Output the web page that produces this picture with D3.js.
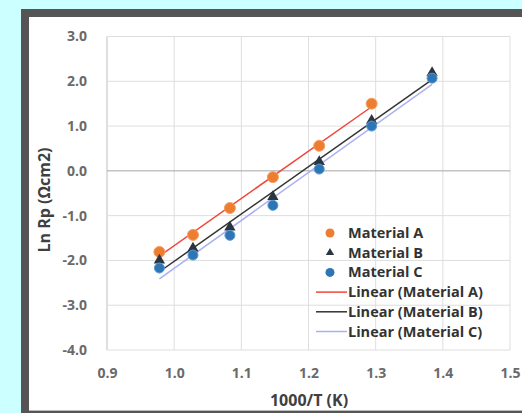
<!DOCTYPE html>
<html>
<head>
<meta charset="utf-8">
<script src="https://cdn.jsdelivr.net/npm/d3@7"></script>
<style>
  body { margin: 0; background: #ccffff; }
  svg { display: block; }
</style>
</head>
<body>
<svg width="522" height="413"></svg>
<script>
// data
var xA = [0.978, 1.028, 1.083, 1.147, 1.216, 1.294];
var yA = [-1.81, -1.43, -0.83, -0.14, 0.56, 1.50];
var xB = [0.978, 1.028, 1.083, 1.147, 1.216, 1.294, 1.384];
var yB = [-2.02, -1.75, -1.28, -0.60, 0.18, 1.10, 2.17];
var xC = [0.978, 1.028, 1.083, 1.147, 1.216, 1.294, 1.384];
var yC = [-2.17, -1.88, -1.44, -0.77, 0.04, 1.00, 2.07];
var xTicks = [0.9, 1.0, 1.1, 1.2, 1.3, 1.4, 1.5];
var yTicks = [3, 2, 1, 0, -1, -2, -3, -4];
var names = ["Material A", "Material B", "Material C"];

var svg = d3.select("svg");

// frame
svg.append("rect").attr("x", 21).attr("y", 9).attr("width", 520).attr("height", 410).attr("fill", "#555");
svg.append("rect").attr("x", 29).attr("y", 17).attr("width", 510).attr("height", 393).attr("fill", "#fff");
svg.append("line").attr("x1", 29).attr("x2", 522).attr("y1", 410.5).attr("y2", 410.5).attr("stroke", "#bbb");

var margin = {top: 36.5, left: 107, right: 12, bottom: 63},
    width = 522 - margin.left - margin.right,
    height = 413 - margin.top - margin.bottom,
    g = svg.append("g").attr("transform", "translate(" + margin.left + "," + margin.top + ")");

var x = d3.scaleLinear().domain([0.9, 1.5]).range([0, width]);
var y = d3.scaleLinear().domain([-4, 3]).range([height, 0]);

// grid
g.selectAll(".vg").data(xTicks).enter().append("line")
  .attr("x1", function(d) { return x(d); }).attr("x2", function(d) { return x(d); })
  .attr("y1", 0).attr("y2", height)
  .attr("stroke", function(d, i) { return i == 0 ? "#bfbfbf" : "#dedede"; });
g.selectAll(".hg").data(yTicks).enter().append("line")
  .attr("x1", 0).attr("x2", width)
  .attr("y1", function(d) { return y(d); }).attr("y2", function(d) { return y(d); })
  .attr("stroke", function(d) { return d == 0 ? "#a6a6a6" : "#dedede"; });

var fmt = function(d) { return d3.format(".1f")(d).replace("−", "-"); };
var tickFont = "bold 14px 'Open Sans', sans-serif";

var yAxis = g.append("g").call(d3.axisLeft(y).tickValues(yTicks).tickFormat(fmt).tickSize(0).tickPadding(20));
yAxis.select(".domain").remove();
yAxis.selectAll("text").style("font", tickFont).attr("fill", "#6a6a6a");

var xAxis = g.append("g").attr("transform", "translate(0," + height + ")")
  .call(d3.axisBottom(x).tickValues(xTicks).tickFormat(fmt).tickSize(0).tickPadding(18));
xAxis.select(".domain").remove();
xAxis.selectAll("text").style("font", tickFont).attr("fill", "#6a6a6a");

// axis titles
var titleFont = "bold 16px 'Open Sans', sans-serif";
svg.append("text").attr("transform", "translate(50,200) rotate(-90)")
  .attr("text-anchor", "middle").style("font", titleFont).attr("fill", "#404040")
  .text("Ln Rp (Ωcm2)");
svg.append("text").attr("x", 309).attr("y", 406)
  .attr("text-anchor", "middle").style("font", titleFont).attr("fill", "#404040")
  .text("1000/T (K)");

// trend lines (least squares)
function fit(xs, ys) {
  var mx = d3.mean(xs), my = d3.mean(ys);
  var sxy = d3.sum(xs, function(v, i) { return (v - mx) * (ys[i] - my); });
  var sxx = d3.sum(xs, function(v) { return (v - mx) * (v - mx); });
  var b = sxy / sxx, a = my - b * mx;
  var x0 = d3.min(xs), x1 = d3.max(xs);
  return [[x0, a + b * x0], [x1, a + b * x1]];
}
var line = d3.line().x(function(d) { return x(d[0]); }).y(function(d) { return y(d[1]); });

var trends = [
  {pts: fit(xA, yA), color: "#f0463a"},
  {pts: fit(xB, yB), color: "#333"},
  {pts: fit(xC, yC), color: "#aab0f0"}
];
g.selectAll(".trend").data(trends).enter().append("path")
  .attr("d", function(d) { return line(d.pts); })
  .attr("fill", "none").attr("stroke", function(d) { return d.color; }).attr("stroke-width", 1.5);

// markers
g.selectAll(".a").data(xA).enter().append("circle")
  .attr("cx", function(d) { return x(d); }).attr("cy", function(d, i) { return y(yA[i]); })
  .attr("r", 5.5).attr("fill", "#ed7d31").attr("stroke", "#f4a060").attr("stroke-width", 1);

var tri = d3.symbol().type(d3.symbolTriangle).size(55);
g.selectAll(".b").data(xB).enter().append("path")
  .attr("transform", function(d, i) { return "translate(" + x(d) + "," + (y(yB[i]) - 1) + ")"; })
  .attr("d", tri).attr("fill", "#2a3540");

g.selectAll(".c").data(xC).enter().append("circle")
  .attr("cx", function(d) { return x(d); }).attr("cy", function(d, i) { return y(yC[i]); })
  .attr("r", 5).attr("fill", "#2e75b6").attr("stroke", "#5a9ad0").attr("stroke-width", 1);

// legend
var lg = svg.append("g").attr("transform", "translate(316,233)");
var rowH = 19.7;
var legFont = "bold 14.5px 'Open Sans', sans-serif";
lg.append("circle").attr("cx", 14).attr("cy", 0).attr("r", 4.5).attr("fill", "#ed7d31");
lg.append("path").attr("transform", "translate(14," + rowH + ")").attr("d", d3.symbol().type(d3.symbolTriangle).size(30)).attr("fill", "#2a3540");
lg.append("circle").attr("cx", 14).attr("cy", 2 * rowH).attr("r", 4.5).attr("fill", "#2e75b6");
trends.forEach(function(t, i) {
  lg.append("line").attr("x1", 0).attr("x2", 31).attr("y1", (3 + i) * rowH).attr("y2", (3 + i) * rowH)
    .attr("stroke", t.color).attr("stroke-width", 1.5);
});
var labels = names.concat(names.map(function(n) { return "Linear (" + n + ")"; }));
lg.selectAll(".lt").data(labels).enter().append("text")
  .attr("x", 32).attr("y", function(d, i) { return i * rowH; }).attr("dy", "0.35em")
  .style("font", legFont).attr("fill", "#333").text(function(d) { return d; });
</script>
</body>
</html>
